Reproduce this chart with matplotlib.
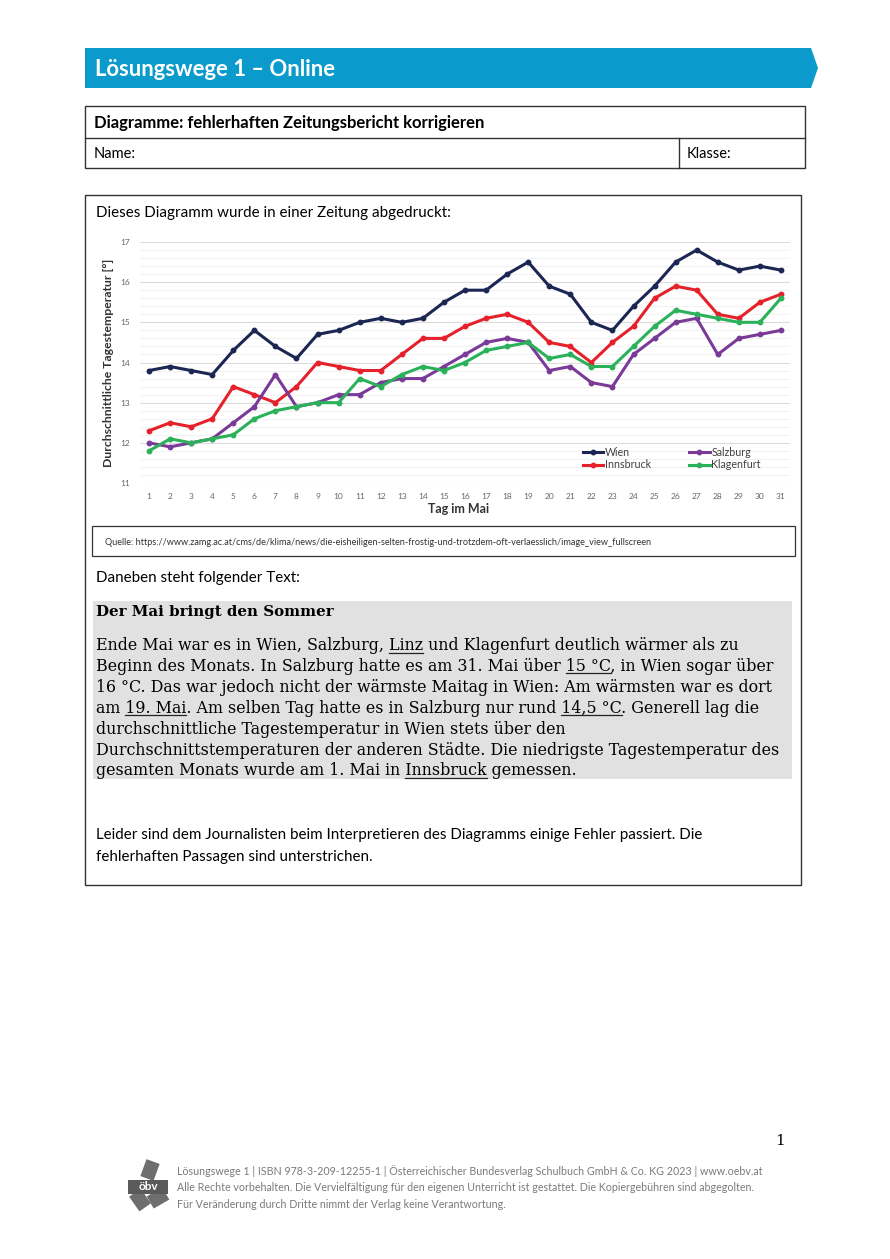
"""Worksheet page 'Diagramme: fehlerhaften Zeitungsbericht korrigieren'.

Run:
    python plot.py      -> out.png
"""

import numpy as np
import matplotlib
matplotlib.use("Agg")
import matplotlib.pyplot as plt
from matplotlib.patches import Polygon, Rectangle
from matplotlib.ticker import MultipleLocator

# --------------------------------------------------------------------------- #
# Data                                         #
# --------------------------------------------------------------------------- #
days = list(range(1, 32))
wien = [13.8, 13.9, 13.8, 13.7, 14.3, 14.8, 14.4, 14.1, 14.7, 14.8,
        15.0, 15.1, 15.0, 15.1, 15.5, 15.8, 15.8, 16.2, 16.5, 15.9,
        15.7, 15.0, 14.8, 15.4, 15.9, 16.5, 16.8, 16.5, 16.3, 16.4, 16.3]
innsbruck = [12.3, 12.5, 12.4, 12.6, 13.4, 13.2, 13.0, 13.4, 14.0, 13.9,
             13.8, 13.8, 14.2, 14.6, 14.6, 14.9, 15.1, 15.2, 15.0, 14.5,
             14.4, 14.0, 14.5, 14.9, 15.6, 15.9, 15.8, 15.2, 15.1, 15.5, 15.7]
salzburg = [12.0, 11.9, 12.0, 12.1, 12.5, 12.9, 13.7, 12.9, 13.0, 13.2,
            13.2, 13.5, 13.6, 13.6, 13.9, 14.2, 14.5, 14.6, 14.5, 13.8,
            13.9, 13.5, 13.4, 14.2, 14.6, 15.0, 15.1, 14.2, 14.6, 14.7, 14.8]
klagenfurt = [11.8, 12.1, 12.0, 12.1, 12.2, 12.6, 12.8, 12.9, 13.0, 13.0,
              13.6, 13.4, 13.7, 13.9, 13.8, 14.0, 14.3, 14.4, 14.5, 14.1,
              14.2, 13.9, 13.9, 14.4, 14.9, 15.3, 15.2, 15.1, 15.0, 15.0, 15.6]

series = [("Wien", wien, "#1c2653"),
          ("Innsbruck", innsbruck, "#e5212b"),
          ("Salzburg", salzburg, "#7a3a97"),
          ("Klagenfurt", klagenfurt, "#2bb15a")]

SANS = ["Lato", "DejaVu Sans"]
SERIF = ["DejaVu Serif"]
BLUE = "#0a9bcc"
BODY = 10.9   # size of the sans body text

HEADLINE = "Der Mai bringt den Sommer"
# each line: list of (text, underlined)
ARTICLE = [
    [("Ende Mai war es in Wien, Salzburg, ", False), ("Linz", True),
     (" und Klagenfurt deutlich wärmer als zu", False)],
    [("Beginn des Monats. In Salzburg hatte es am 31. Mai über ", False),
     ("15 °C", True), (", in Wien sogar über", False)],
    [("16 °C. Das war jedoch nicht der wärmste Maitag in Wien: Am wärmsten war es dort", False)],
    [("am ", False), ("19. Mai", True),
     (". Am selben Tag hatte es in Salzburg nur rund ", False),
     ("14,5 °C", True), (". Generell lag die", False)],
    [("durchschnittliche Tagestemperatur in Wien stets über den", False)],
    [("Durchschnittstemperaturen der anderen Städte. Die niedrigste Tagestemperatur des", False)],
    [("gesamten Monats wurde am 1. Mai in ", False), ("Innsbruck", True),
     (" gemessen.", False)],
]
FOOTER = [
    "Lösungswege 1 | ISBN 978-3-209-12255-1 | Österreichischer Bundesverlag "
    "Schulbuch GmbH & Co. KG 2023 | www.oebv.at",
    "Alle Rechte vorbehalten. Die Vervielfältigung für den eigenen Unterricht "
    "ist gestattet. Die Kopiergebühren sind abgegolten.",
    "Für Veränderung durch Dritte nimmt der Verlag keine Verantwortung.",
]
SOURCE = ("Quelle: https://www.zamg.ac.at/cms/de/klima/news/die-eisheiligen-"
          "selten-frostig-und-trotzdem-oft-verlaesslich/image_view_fullscreen")

W, H = 890, 1259
fig = plt.figure(figsize=(W / 100, H / 100), dpi=100)
fig.patch.set_facecolor("white")

# page overlay in pixel coordinates (y downwards)
pg = fig.add_axes([0, 0, 1, 1])
pg.set_xlim(0, W); pg.set_ylim(H, 0); pg.axis("off")

# --- header banner -------------------------------------------------------- #
pg.add_patch(Polygon([(85, 48), (811, 48), (818, 68), (811, 88), (85, 88)],
                     closed=True, color=BLUE, lw=0))
pg.text(95, 69, "Lösungswege 1 – Online", color="white", fontsize=15.8,
        fontweight="bold", family=SANS, va="center")

# --- title table ---------------------------------------------------------- #
kw = dict(fill=False, ec="#333333", lw=1.0)
pg.add_patch(Rectangle((85, 106), 720, 62, **kw))
pg.plot([85, 805], [138, 138], color="#333333", lw=1.0)
pg.plot([679, 679], [138, 168], color="#333333", lw=1.0)
pg.text(94, 123, "Diagramme: fehlerhaften Zeitungsbericht korrigieren",
        fontsize=12, fontweight="bold", family=SANS, va="center")
pg.text(94, 154, "Name:", fontsize=10.5, family=SANS, va="center")
pg.text(687, 154, "Klasse:", fontsize=10.5, family=SANS, va="center")

# --- main box ------------------------------------------------------------- #
pg.add_patch(Rectangle((85, 195), 716, 690, **kw))
pg.text(96, 213, "Dieses Diagramm wurde in einer Zeitung abgedruckt:",
        fontsize=BODY, family=SANS, va="center")

pg.add_patch(Rectangle((92, 526), 703, 30, fill=False, ec="#333333", lw=0.9))
pg.text(105, 542, SOURCE, fontsize=6.6, family=SANS, va="center",
        color="#333333")

pg.text(96, 578, "Daneben steht folgender Text:", fontsize=BODY, family=SANS,
        va="center")

# grey article box
pg.add_patch(Rectangle((93, 601), 699, 178, color="#e1e1e1", lw=0))
pg.text(96, 612, HEADLINE, fontsize=10.8, fontweight="bold", family=SERIF,
        va="center")

renderer = fig.canvas.get_renderer()


def text_width(s, **props):
    t = pg.text(0, 0, s, **props)
    bb = t.get_window_extent(renderer)
    t.remove()
    return bb.width


art_props = dict(fontsize=11.4, family=SERIF)
x0 = 96
for i, parts in enumerate(ARTICLE):
    base = 650 + i * 20.9
    line = "".join(p for p, _ in parts)
    pg.text(x0, base, line, va="baseline", **art_props)
    prefix = ""
    for piece, under in parts:
        if under:
            # 1 data unit = 1 px in the overlay
            end = text_width(prefix + piece, **art_props)
            start = end - text_width(piece, **art_props)
            pg.plot([x0 + start, x0 + end], [base + 2.5, base + 2.5],
                    color="#222222", lw=0.9)
        prefix += piece

pg.text(96, 835, "Leider sind dem Journalisten beim Interpretieren des "
        "Diagramms einige Fehler passiert. Die", fontsize=BODY, family=SANS,
        va="center")
pg.text(96, 857, "fehlerhaften Passagen sind unterstrichen.", fontsize=BODY,
        family=SANS, va="center")

# --- footer --------------------------------------------------------------- #
pg.text(775, 1141, "1", fontsize=11, family=SERIF, va="center")
for ang, (cx, cy) in zip([20, -35, 60], [(150, 1170), (140, 1200), (158, 1198)]):
    pg.add_patch(Rectangle((cx - 7, cy - 9), 14, 18, angle=ang,
                           rotation_point="center", color="#6e6e6e", lw=0))
pg.add_patch(Rectangle((128, 1180), 40, 14, color="#5a5a5a", lw=0))
pg.text(148, 1187, "öbv", color="white", fontsize=8.5, fontweight="bold",
        family=SANS, ha="center", va="center")
for i, s in enumerate(FOOTER):
    pg.text(177, 1171 + i * 16.5, s, fontsize=7.7, family=SANS,
            color="#7a7a7a", va="center")

# --------------------------------------------------------------------------- #
# Newspaper chart                                                             #
# --------------------------------------------------------------------------- #
ax = fig.add_axes([140 / W, 1 - 483 / H, 650 / W, 241 / H])
for name, vals, col in series:
    ax.plot(days, vals, "-o", color=col, lw=2.2, ms=3.2, label=name)
ax.set_xlim(0.57, 31.43)
ax.set_ylim(11, 17)
ax.set_xticks(days)
ax.yaxis.set_major_locator(MultipleLocator(1))
ax.yaxis.set_minor_locator(MultipleLocator(0.2))
ax.grid(which="major", axis="y", color="#dcdcdc", lw=0.8)
ax.grid(which="minor", axis="y", color="#f0f0f0", lw=0.6)
ax.set_axisbelow(True)
for sp in ax.spines.values():
    sp.set_visible(False)
ax.tick_params(which="both", length=0, labelsize=6, labelcolor="#666666",
               pad=7)
for lab in ax.get_xticklabels() + ax.get_yticklabels():
    lab.set_family(SANS)
ax.set_xlabel("Tag im Mai", fontsize=9, fontweight="bold", family=SANS,
              color="#333333", labelpad=2)
ax.xaxis.set_label_coords(0.49, -0.085)
ax.set_ylabel("Durchschnittliche Tagestemperatur [°]", fontsize=8.8,
              fontweight="bold", family=SANS, color="#333333", labelpad=5)
leg = ax.legend(ncol=2, loc="lower right", bbox_to_anchor=(0.955, 0.052),
                frameon=False, handlelength=1.9, columnspacing=3.6,
                labelspacing=0.15, handletextpad=0.15, borderaxespad=0,
                borderpad=0, prop={"family": SANS, "size": 7.7})
for t in leg.get_texts():
    t.set_color("#404040")

fig.savefig("out.png", dpi=100)
